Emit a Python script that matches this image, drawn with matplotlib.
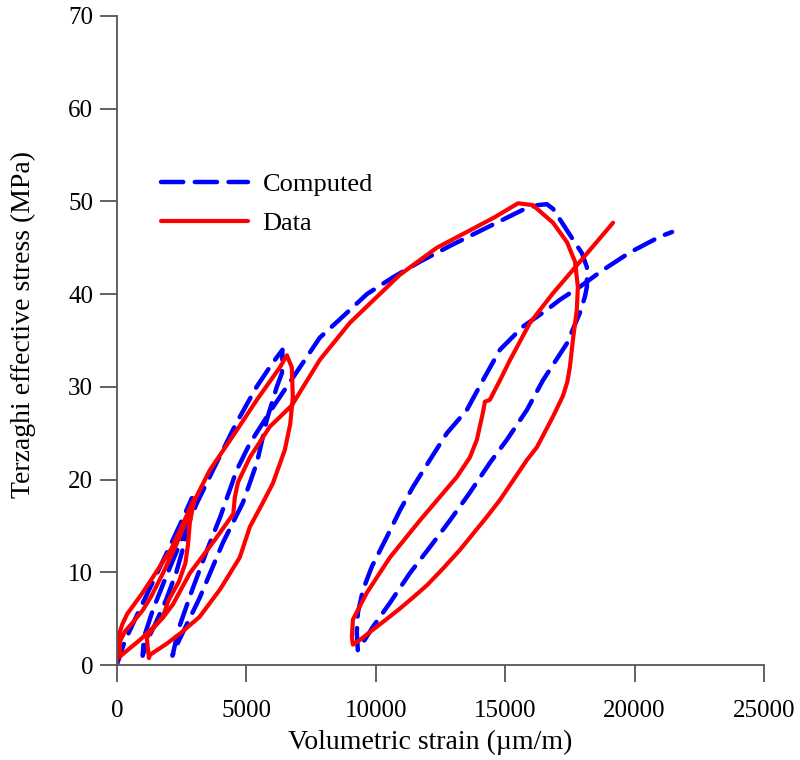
import matplotlib
matplotlib.use("Agg")
import matplotlib.pyplot as plt

# Volumetric strain (um/m) and Terzaghi effective stress (MPa)
data_strain = [0, 0, 200, 400, 1000, 1400, 2100, 2600, 3000,
               2820, 2750, 2650, 2400, 2000, 1780, 1390, 890, 500, 115,
               115, 310, 620, 1000, 1350, 1800, 2300, 2750, 3010, 3590, 4630, 5410, 6300, 6570,
               6760, 6800, 6700, 6490, 6030, 5640, 5140, 4750, 4000, 3200, 2450, 1930, 1280, 1240,
               1160, 1350, 1780, 2160, 2820, 3790, 4500, 4560, 4680, 5140, 5910, 6760, 7840,
               9000, 10940, 12360, 13520, 14600, 15500, 16070, 16850, 17390, 17700,
               17810, 17770, 17620, 17500, 17400, 17230, 16850, 16230, 15840, 14800, 14300,
               13250, 12600, 11980, 11450, 10940, 10400, 9890, 9390, 9120, 9080, 9120, 9660,
               10550, 11710, 13140, 13640, 13910, 14140, 14220, 14410, 14800, 15190, 15960,
               16850, 17770, 19170]
data_stress = [0, 2.5, 4.3, 5.5, 7.8, 9.5, 12.5, 15.5, 18.0,
               15.3, 13.0, 11.0, 9.0, 7.0, 5.2, 4.0, 2.7, 1.8, 0.9,
               2.5, 3.6, 4.6, 5.9, 7.5, 10.0, 13.0, 16.0, 17.8, 21.0, 25.3, 28.6, 32.1, 33.4,
               32.1, 28.9, 26.0, 23.2, 19.6, 17.5, 14.9, 11.6, 8.2, 5.2, 3.4, 2.3, 1.1, 0.75,
               2.9, 3.8, 5.1, 6.5, 9.9, 13.5, 16.3, 18.1, 19.7, 22.4, 25.7, 28.0, 32.9,
               36.9, 42.1, 45.0, 46.7, 48.3, 49.8, 49.6, 47.7, 45.6, 43.5,
               40.8, 38.3, 35.1, 32.1, 30.5, 29.0, 26.8, 23.5, 22.1, 17.8, 16.0,
               12.4, 10.4, 8.6, 7.3, 6.1, 4.9, 3.8, 2.7, 2.2, 3.0, 4.9, 7.8,
               11.6, 15.6, 20.3, 22.4, 24.3, 27.2, 28.4, 28.6, 30.7, 32.9, 36.9,
               40.1, 43.1, 47.7]

comp_strain = [0, 300, 800, 1400, 2000, 2500, 2900,
               2800, 2600, 2300, 1900, 1500, 1150, 1000,
               1050, 1400, 1900, 2500, 3100, 3800, 4600, 5400, 6000, 6400,
               6380, 6180, 5800, 5410, 4870, 4100, 3210, 2360, 2150,
               2400, 2900, 3500, 4000, 4630, 5140, 6030, 7070, 7840,
               8700, 9660, 10660, 11710, 12940, 13950, 15110, 15690, 16270, 16610, 16850,
               17430, 17970, 18160, 18160, 18080, 17890, 17390, 16460, 15840, 15070,
               14410, 13640, 12870, 12090, 11320, 10550, 9890, 9390, 9310,
               9270, 9310, 9510, 9850, 10430, 10940, 11440, 12090, 12750, 13520, 14140,
               14800, 15690, 16610, 17120, 17890, 18780, 19820, 20980, 21450]
comp_stress = [0, 2.5, 5.5, 9.0, 12.5, 15.5, 18.0,
               16.0, 13.0, 10.0, 7.0, 4.5, 2.5, 1.0,
               3.0, 6.0, 9.5, 13.5, 17.5, 21.5, 26.0, 30.0, 32.5, 34.0,
               31.5, 30.0, 26.5, 21.8, 17.5, 13.2, 7.3, 2.4, 1.0,
               4.0, 8.0, 12.5, 16.0, 21.0, 23.9, 27.8, 32.1, 35.3,
               37.5, 40.0, 41.8, 43.5, 45.3, 46.7, 48.3, 49.1, 49.6, 49.7, 49.2,
               46.7, 44.4, 42.9, 40.8, 39.7, 38.0, 34.7, 30.7, 27.5, 24.3,
               21.8, 18.6, 15.6, 12.7, 9.9, 6.7, 4.1, 1.9, 1.6,
               3.5, 5.6, 8.1, 10.6, 13.8, 16.7, 19.2, 22.1, 25.0, 27.5, 30.7,
               34.0, 36.5, 38.3, 39.4, 40.8, 42.6, 44.5, 46.2, 46.7]

plt.rcParams["font.family"] = ["Liberation Serif", "DejaVu Serif"]

fig = plt.figure(figsize=(8, 7.6), dpi=100)
ax = fig.add_axes([0.146, 0.125, 0.809, 0.854])

ax.plot(comp_strain, comp_stress, color="#0000ff", lw=3.2, dashes=(5, 2.6),
        dash_capstyle="round", label="Computed")
ax.plot(data_strain, data_stress, color="#ff0000", lw=3.0,
        solid_joinstyle="round", solid_capstyle="round", label="Data")

ax.set_xlim(0, 25000)
ax.set_ylim(0, 70)
ax.set_xticks(range(0, 25001, 5000))
ax.set_yticks(range(0, 71, 10))
for s in ["top", "right"]:
    ax.spines[s].set_visible(False)
for s in ["left", "bottom"]:
    ax.spines[s].set_color("#555555")
    ax.spines[s].set_linewidth(1.3)
ax.tick_params(direction="out", length=12, width=1.3, color="#555555",
               labelsize=18, pad=13)
ax.tick_params(axis="y", pad=5)

ax.set_xlabel("Volumetric strain (\u00b5m/m)", fontsize=20)
ax.set_ylabel("Terzaghi effective stress (MPa)", fontsize=20)
ax.xaxis.set_label_coords(0.484, -0.1)
ax.yaxis.set_label_coords(-0.125, 0.525)

ax.legend(loc="upper left", bbox_to_anchor=(0.068, 0.759), frameon=False,
          fontsize=19, handlelength=3.3, handletextpad=0.55, labelspacing=0.6,
          borderpad=0, borderaxespad=0)

fig.savefig("out.png", dpi=100)
